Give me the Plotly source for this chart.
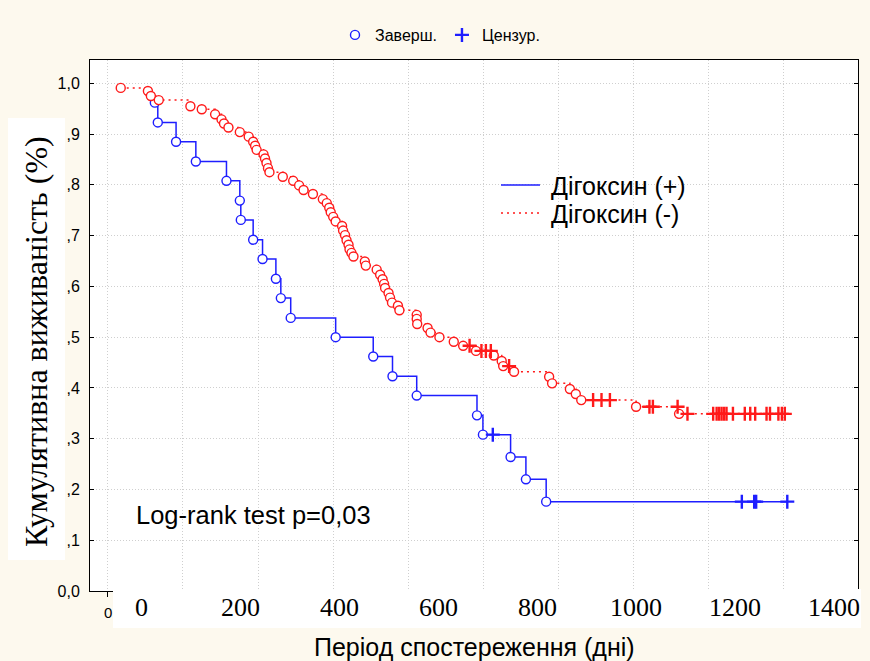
import plotly.graph_objects as go

# ---------------- data (days, cumulative survival) ----------------
blue_event_time = [26, 32, 69, 109, 171, 198, 200, 225, 244, 271, 281, 301, 392,
                   468, 507, 556, 678, 690, 746, 777, 818]
blue_event_surv = [0.962, 0.923, 0.885, 0.846, 0.808, 0.769, 0.731, 0.692, 0.654,
                   0.615, 0.577, 0.538, 0.500, 0.462, 0.423, 0.385, 0.346, 0.308,
                   0.264, 0.220, 0.176]
blue_cens_time = [710, 1214, 1239, 1243, 1306]
blue_cens_surv = [0.308, 0.176, 0.176, 0.176, 0.176]

red_event_time = [-43, 12, 18, 34, 98, 121, 148, 161, 166, 175, 198, 216, 225, 229,
                  232, 246, 249, 252, 255, 258, 285, 306, 318, 327, 346, 366, 374,
                  379, 382, 387, 392, 405, 407, 411, 414, 418, 420, 424, 428, 451,
                  453, 475, 482, 487, 490, 492, 499, 502, 506, 518, 521, 556, 556,
                  557, 578, 584, 602, 631, 650, 676, 712, 728, 731, 753, 824, 830,
                  866, 878, 889, 1000, 1087]
red_event_surv = [0.991, 0.985, 0.975, 0.967, 0.955, 0.949, 0.939, 0.929, 0.921, 0.913,
                  0.904, 0.895, 0.885, 0.877, 0.869, 0.860, 0.852, 0.843, 0.833, 0.825,
                  0.816, 0.808, 0.799, 0.790, 0.782, 0.772, 0.764, 0.755, 0.746, 0.737,
                  0.728, 0.719, 0.710, 0.701, 0.691, 0.682, 0.673, 0.666, 0.659, 0.649,
                  0.641, 0.633, 0.623, 0.614, 0.605, 0.597, 0.587, 0.578, 0.568, 0.562,
                  0.553, 0.544, 0.536, 0.526, 0.518, 0.509, 0.500, 0.491, 0.483, 0.473,
                  0.464, 0.453, 0.443, 0.432, 0.422, 0.409, 0.398, 0.388, 0.376, 0.363,
                  0.349]
red_cens_time = [663, 687, 696, 706, 743, 913, 930, 947, 1027, 1034, 1084,
                 1104, 1156, 1163, 1168, 1173, 1178, 1183, 1196, 1220, 1231, 1241,
                 1264, 1271, 1288, 1295, 1301]
red_cens_surv = [0.483, 0.473, 0.473, 0.473, 0.443, 0.376, 0.376, 0.376, 0.363, 0.363,
                 0.363] + [0.349] * 16

x_tick_vals = [0, 200, 400, 600, 800, 1000, 1200, 1400]
x_tick_text = ["0", "200", "400", "600", "800", "1000", "1200", "1400"]
y_tick_vals = [0.0, 0.1, 0.2, 0.3, 0.4, 0.5, 0.6, 0.7, 0.8, 0.9, 1.0]
y_tick_text = ["0,0", ",1", ",2", ",3", ",4", ",5", ",6", ",7", ",8", ",9", "1,0"]

name_plus = "Дігоксин (+)"
name_minus = "Дігоксин (-)"
name_event = "Заверш."
name_cens = "Цензур."
logrank_text = "Log-rank test p=0,03"
x_title = "Період спостереження (дні)"
y_title = "Кумулятивна виживаність (%)"

# ---------------- styling / layout constants ----------------
BLUE = "#1E1EFF"
RED = "#FF1A1A"
BG = "#FDF9EE"
GRID = "#CFCFCF"
SANS = "Liberation Sans, Arial, sans-serif"
SERIF = "Liberation Serif, Times New Roman, serif"
RED_DASH = "2px,4px"
GRID_DASH = "1px,2px"

W_FIG, H_FIG = 870, 661
L, R, T, B = 90, 858, 60, 591
PW, PH = R - L, B - T

def fx(px):
    return (px - L) / PW

def fy(py):
    return (B - py) / PH

X_RANGE = [-105.2, 1449.1]
Y_RANGE = [0, 1.046]
GRID_X0 = -68.8
GRID_DX = 151.8


def step_xy(et, es, ct, cs):
    pts = sorted(list(zip(et, es)) + list(zip(ct, cs)), key=lambda p: p[0])
    return [p[0] for p in pts], [p[1] for p in pts]


fig = go.Figure()

for (et, es, ct, cs, col, dash, show) in [
    (blue_event_time, blue_event_surv, blue_cens_time, blue_cens_surv, BLUE, "solid", True),
    (red_event_time, red_event_surv, red_cens_time, red_cens_surv, RED, RED_DASH, False),
]:
    lx, ly = step_xy(et, es, ct, cs)
    fig.add_trace(go.Scatter(x=lx, y=ly, mode="lines", line_shape="hv",
                             line=dict(color=col, width=1.5, dash=dash),
                             showlegend=False, hoverinfo="skip"))
    fig.add_trace(go.Scatter(x=et, y=es, mode="markers", name=name_event,
                             marker=dict(symbol="circle", size=9, color="white",
                                         line=dict(color=col, width=1.4)),
                             showlegend=show))
    fig.add_trace(go.Scatter(x=ct, y=cs, mode="markers", name=name_cens,
                             marker=dict(symbol="cross-thin", size=10, color=col,
                                         line=dict(color=col, width=2.4)),
                             showlegend=show))

shapes = [
    # white box behind y-axis title
    dict(type="rect", xref="paper", yref="paper", x0=fx(8), x1=fx(65),
         y0=fy(560), y1=fy(118), fillcolor="white", line_width=0, layer="below"),
    # white box over the original x tick labels
    dict(type="rect", xref="paper", yref="paper", x0=fx(113), x1=fx(861),
         y0=fy(628), y1=fy(589), fillcolor="white", line_width=0, layer="above"),
    # inner legend samples
    dict(type="line", xref="paper", yref="paper", x0=fx(501), x1=fx(540),
         y0=fy(185), y1=fy(185), line=dict(color=BLUE, width=1.5)),
    dict(type="line", xref="paper", yref="paper", x0=fx(501), x1=fx(540),
         y0=fy(213), y1=fy(213), line=dict(color=RED, width=1.5, dash=RED_DASH)),
]

annotations = [
    dict(text=y_title, xref="paper", yref="paper", x=fx(36), y=fy(342),
         textangle=-90, showarrow=False, xanchor="center", yanchor="middle",
         font=dict(family=SERIF, size=32, color="black")),
    dict(text=x_title, xref="paper", yref="paper", x=fx(474), y=fy(647),
         showarrow=False, xanchor="center", yanchor="middle",
         font=dict(family=SANS, size=25, color="black")),
    dict(text=logrank_text, xref="paper", yref="paper", x=fx(134), y=fy(515),
         showarrow=False, xanchor="left", yanchor="middle",
         font=dict(family=SANS, size=25.5, color="black")),
    dict(text=name_plus, xref="paper", yref="paper", x=fx(549), y=fy(186),
         showarrow=False, xanchor="left", yanchor="middle",
         font=dict(family=SANS, size=25, color="black")),
    dict(text=name_minus, xref="paper", yref="paper", x=fx(549), y=fy(214),
         showarrow=False, xanchor="left", yanchor="middle",
         font=dict(family=SANS, size=25, color="black")),
    dict(text="0", xref="x", yref="paper", x=GRID_X0, y=fy(612),
         showarrow=False, xanchor="center", yanchor="middle",
         font=dict(family=SANS, size=15, color="black")),
]
for v, t in zip(x_tick_vals, x_tick_text):
    annotations.append(dict(text=t, xref="x", yref="paper", x=v, y=fy(607),
                            showarrow=False, xanchor="center", yanchor="middle",
                            font=dict(family=SERIF, size=26, color="black")))

fig.update_layout(
    width=W_FIG, height=H_FIG,
    margin=dict(l=L, r=W_FIG - R, t=T, b=H_FIG - B, pad=0),
    paper_bgcolor=BG, plot_bgcolor="white",
    font=dict(family=SANS, size=16, color="black"),
    showlegend=True,
    legend=dict(orientation="h", x=fx(440), y=fy(35), xanchor="center",
                yanchor="middle", bgcolor="rgba(0,0,0,0)", itemwidth=30,
                font=dict(family=SANS, size=16, color="black")),
    shapes=shapes, annotations=annotations,
)

fig.update_xaxes(range=X_RANGE, tick0=GRID_X0, dtick=GRID_DX, tickmode="linear",
                 showticklabels=False, ticks="outside", ticklen=5, tickcolor="black",
                 showgrid=True, gridcolor=GRID, griddash=GRID_DASH, gridwidth=1,
                 zeroline=False, showline=True, linecolor="black", linewidth=1,
                 mirror=True)
fig.update_yaxes(range=Y_RANGE, tickmode="array", tickvals=y_tick_vals,
                 ticktext=y_tick_text, ticks="inside", ticklen=4, tickcolor="black",
                 ticklabelstandoff=6,
                 tickfont=dict(family=SANS, size=16, color="black"),
                 showgrid=True, gridcolor=GRID, griddash=GRID_DASH, gridwidth=1,
                 zeroline=False, showline=True, linecolor="black", linewidth=1,
                 mirror="ticks")

fig.write_html("out.html")
